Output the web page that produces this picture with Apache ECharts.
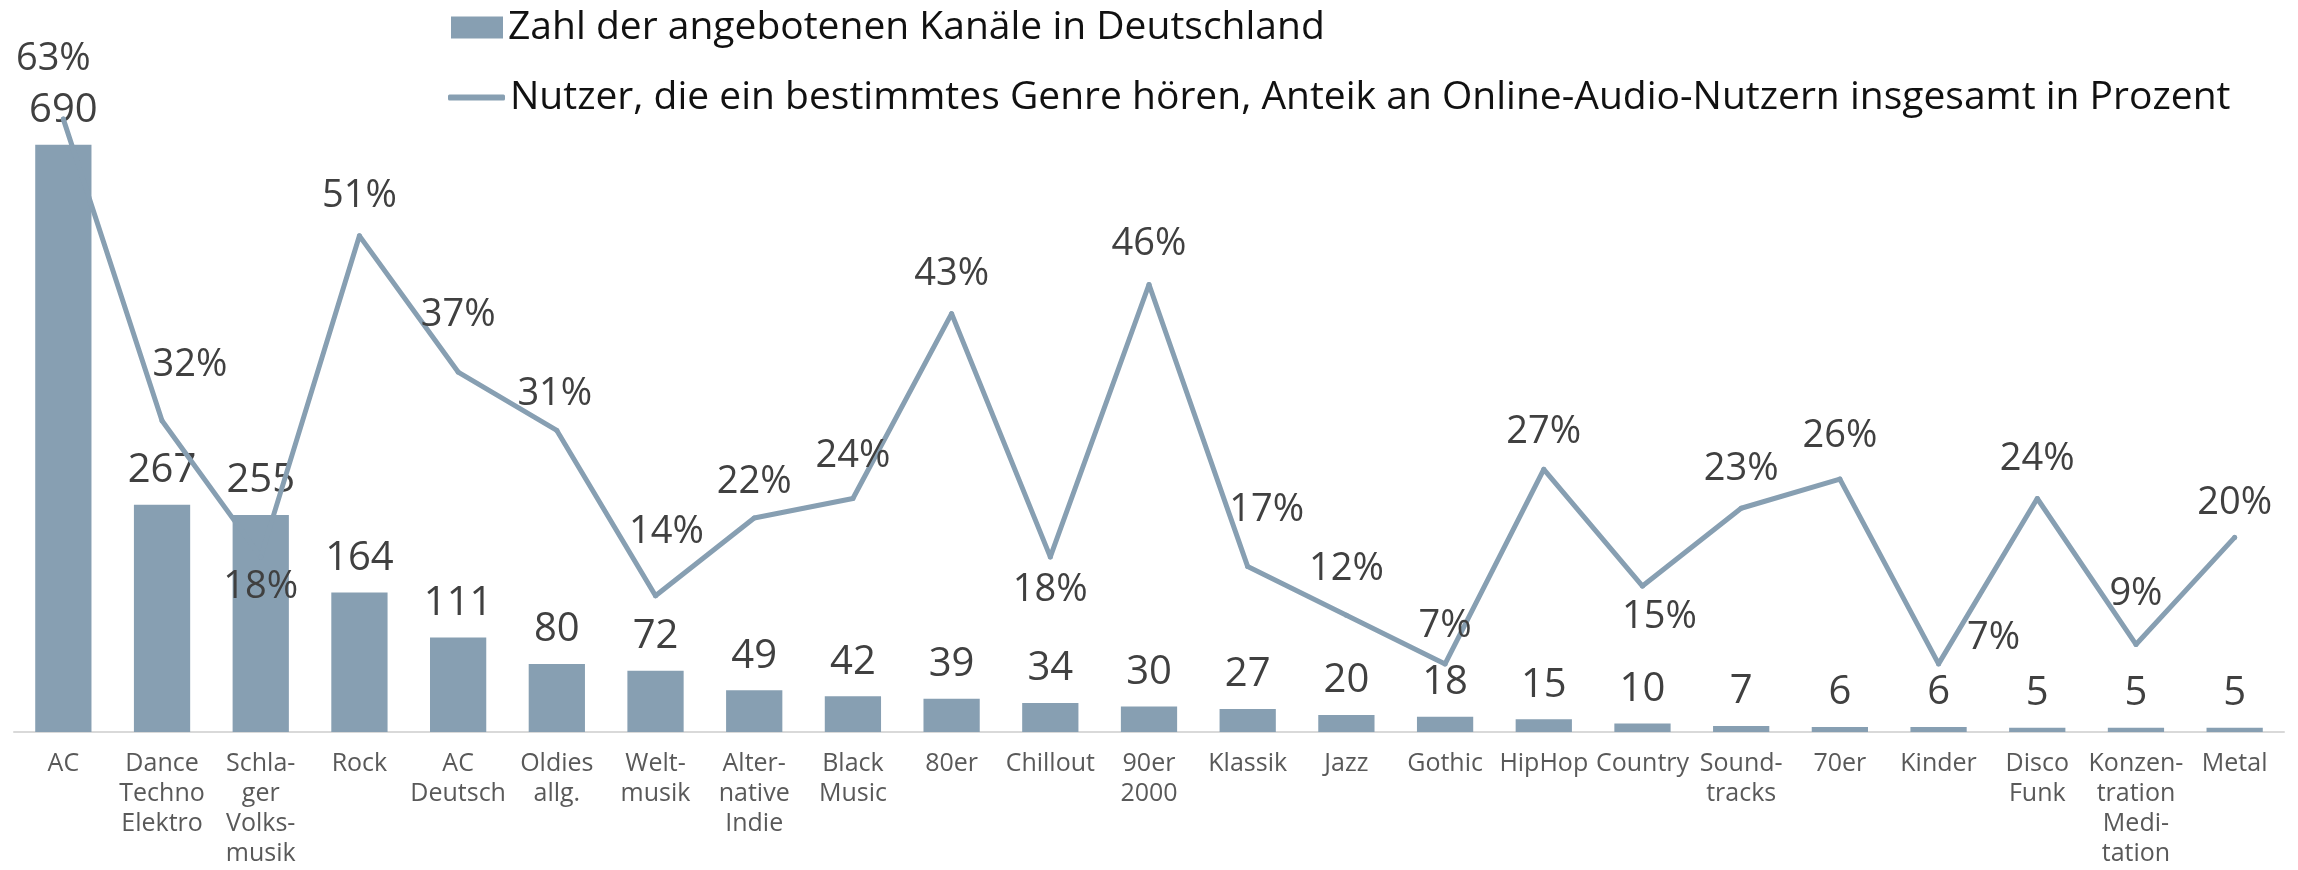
<!DOCTYPE html>
<html>
<head>
<meta charset="utf-8">
<script src="https://cdn.jsdelivr.net/npm/echarts@6/dist/echarts.min.js"></script>
<style>
  html, body { margin: 0; padding: 0; background: #fff; }
  #chart { width: 2298px; height: 870px; }
</style>
</head>
<body>
<div id="chart"></div>
<script>
const categories = [
  'AC', 'Dance\nTechno\nElektro', 'Schla-\nger\nVolks-\nmusik', 'Rock', 'AC\nDeutsch',
  'Oldies\nallg.', 'Welt-\nmusik', 'Alter-\nnative\nIndie', 'Black\nMusic', '80er',
  'Chillout', '90er\n2000', 'Klassik', 'Jazz', 'Gothic', 'HipHop', 'Country',
  'Sound-\ntracks', '70er', 'Kinder', 'Disco\nFunk', 'Konzen-\ntration\nMedi-\ntation', 'Metal'
];
const channels = [690, 267, 255, 164, 111, 80, 72, 49, 42, 39, 34, 30, 27, 20, 18, 15, 10, 7, 6, 6, 5, 5, 5];
const listeners = [63, 32, 18, 51, 37, 31, 14, 22, 24, 43, 18, 46, 17, 12, 7, 27, 15, 23, 26, 7, 24, 9, 20];

const barName = 'Zahl der angebotenen Kanäle in Deutschland';
const lineName = 'Nutzer, die ein bestimmtes Genre hören, Anteik an Online-Audio-Nutzern insgesamt in Prozent';

// where each percent label sits relative to its point (label styling only)
const pctLabelShift = [
  [-10, -60], [28, -56], [0, 30], [0, -40], [0, -57], [-2, -36], [11, -64], [0, -36],
  [0, -42], [0, -39], [0, 33], [0, -40], [19, -56], [0, -46], [0, -38], [0, -37],
  [17, 31], [0, -39], [0, -43], [55, -26], [0, -39], [0, -50], [0, -34]
];

const color = '#879fb2';
const font = '"Open Sans", "Segoe UI", sans-serif';

const chart = echarts.init(document.getElementById('chart'));

chart.setOption({
  animation: false,
  textStyle: { fontFamily: font },
  legend: [
    {
      data: [{ name: barName, icon: 'rect' }],
      left: 451, top: 8, padding: 0,
      itemWidth: 52, itemHeight: 22,
      textStyle: { fontSize: 39, color: '#111', fontFamily: font }
    },
    {
      data: [{ name: lineName, icon: 'roundRect' }],
      left: 448, top: 78, padding: 0,
      itemWidth: 57, itemHeight: 6,
      textStyle: { fontSize: 39, color: '#111', fontFamily: font }
    }
  ],
  grid: { left: 14, right: 14, top: 51, bottom: 138 },
  xAxis: {
    type: 'category',
    data: categories,
    axisLine: { lineStyle: { color: '#d9d9d9', width: 2 } },
    axisTick: { length: 8, lineStyle: { color: '#d9d9d9', width: 2 } },
    axisLabel: {
      interval: 0, margin: 17, fontSize: 25, lineHeight: 30,
      color: '#595959', fontFamily: font
    }
  },
  yAxis: [
    { type: 'value', min: 0, max: 800, show: false },
    { type: 'value', min: 0, max: 70, show: false }
  ],
  series: [
    {
      name: barName,
      type: 'bar',
      data: channels,
      barWidth: '57%',
      itemStyle: { color: color },
      label: {
        show: true, position: 'top', distance: 14,
        fontSize: 40, color: '#404040', fontFamily: font
      },
      z: 1
    },
    {
      name: lineName,
      type: 'line',
      yAxisIndex: 1,
      data: listeners.map((v, i) => ({
        value: v,
        label: { offset: pctLabelShift[i] }
      })),
      symbol: 'circle',
      symbolSize: 5,
      itemStyle: { color: color },
      lineStyle: { color: color, width: 5, join: 'round', cap: 'round' },
      label: {
        show: true, position: 'inside',
        formatter: p => p.value + '%',
        fontSize: 38, color: '#404040', fontFamily: font
      },
      z: 2
    }
  ]
});
</script>
</body>
</html>
